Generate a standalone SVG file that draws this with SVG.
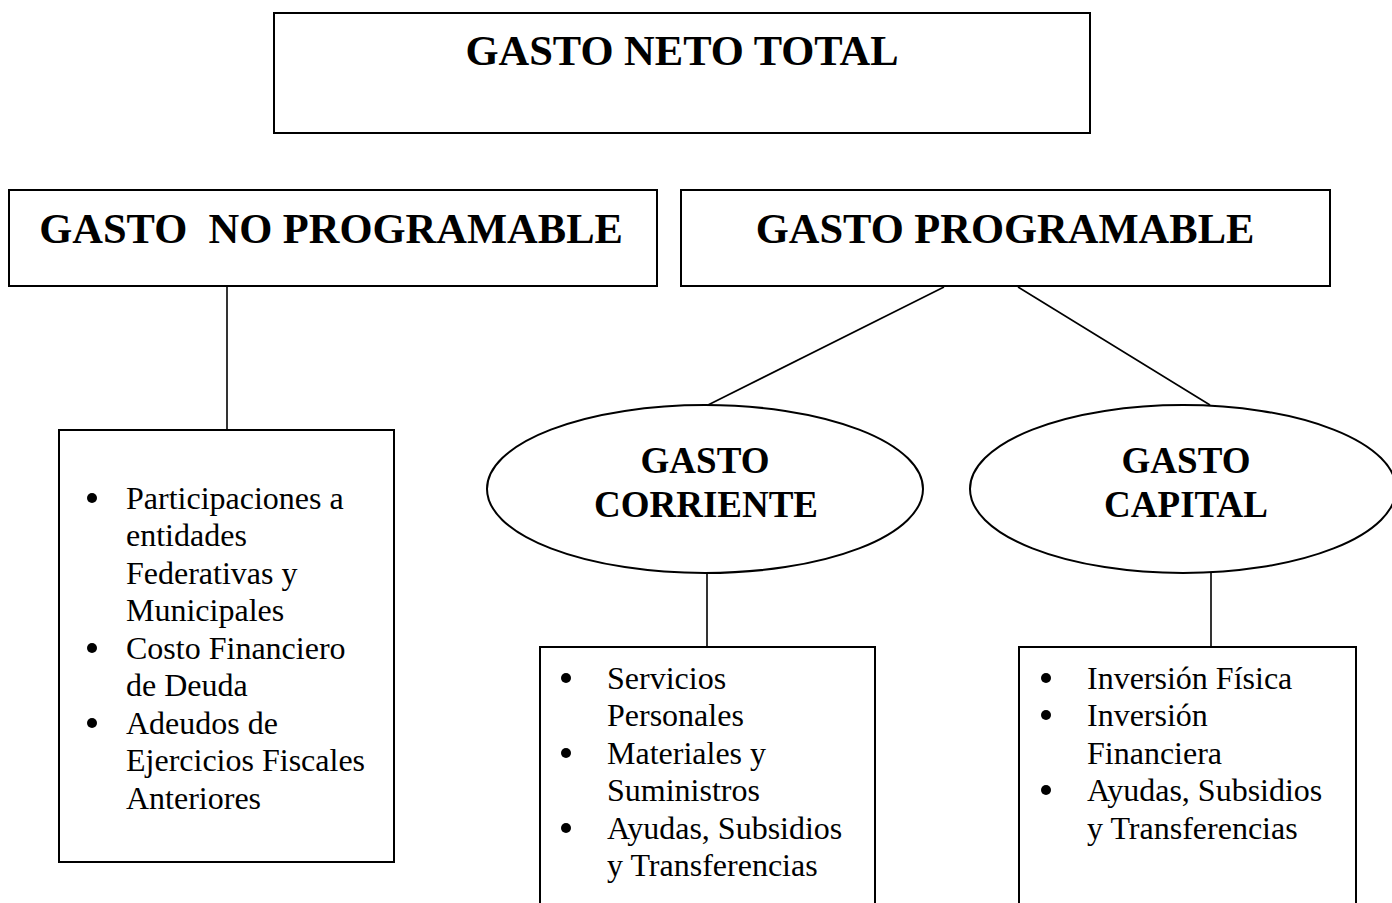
<svg xmlns="http://www.w3.org/2000/svg" width="1392" height="903" viewBox="0 0 1392 903">
<style>
.box{fill:#fff;stroke:#000;stroke-width:2}
.ell{fill:#fff;stroke:#000;stroke-width:2}
.con{stroke:#000;stroke-width:1.6;fill:none}
.h{font-family:"Liberation Serif","Times New Roman",serif;font-weight:bold;font-size:42.5px;fill:#000;text-anchor:middle}
.e{font-family:"Liberation Serif","Times New Roman",serif;font-weight:bold;font-size:37px;fill:#000;text-anchor:middle}
.t{font-family:"Liberation Serif","Times New Roman",serif;font-size:32px;fill:#000}
.b{fill:#000}
</style>
<rect width="1392" height="903" fill="#fff"/>
<g id="connectors">
<line class="con" x1="227" y1="286" x2="227" y2="430"/>
<line class="con" x1="944" y1="287" x2="708" y2="405"/>
<line class="con" x1="1018" y1="287" x2="1210" y2="405"/>
<line class="con" x1="707" y1="573" x2="707" y2="647"/>
<line class="con" x1="1211" y1="573" x2="1211" y2="647"/>
</g>
<g id="gasto-neto-total">
<rect class="box" x="274" y="13" width="816" height="120"/>
<text class="h" x="682" y="65">GASTO NETO TOTAL</text>
</g>
<g id="gasto-no-programable">
<rect class="box" x="9" y="190" width="648" height="96"/>
<text class="h" x="331" y="243" xml:space="preserve">GASTO  NO PROGRAMABLE</text>
</g>
<g id="gasto-programable">
<rect class="box" x="681" y="190" width="649" height="96"/>
<text class="h" x="1005" y="243">GASTO PROGRAMABLE</text>
</g>
<g id="no-programable-items">
<rect class="box" x="59" y="430" width="335" height="432"/>
<circle class="b" cx="92" cy="498" r="5"/>
<circle class="b" cx="92" cy="648" r="5"/>
<circle class="b" cx="92" cy="723" r="5"/>
<text class="t" x="126" y="509">Participaciones a</text>
<text class="t" x="126" y="546">entidades</text>
<text class="t" x="126" y="584">Federativas y</text>
<text class="t" x="126" y="621">Municipales</text>
<text class="t" x="126" y="659">Costo Financiero</text>
<text class="t" x="126" y="696">de Deuda</text>
<text class="t" x="126" y="734">Adeudos de</text>
<text class="t" x="126" y="771">Ejercicios Fiscales</text>
<text class="t" x="126" y="809">Anteriores</text>
</g>
<g id="gasto-corriente">
<ellipse class="ell" cx="705" cy="489" rx="218" ry="84"/>
<text class="e" x="705" y="473">GASTO</text>
<text class="e" x="706" y="517">CORRIENTE</text>
</g>
<g id="gasto-capital">
<ellipse class="ell" cx="1183" cy="489" rx="213" ry="84"/>
<text class="e" x="1186" y="473">GASTO</text>
<text class="e" x="1186" y="517">CAPITAL</text>
</g>
<g id="corriente-items">
<rect class="box" x="540" y="647" width="335" height="270"/>
<circle class="b" cx="566" cy="678" r="5"/>
<circle class="b" cx="566" cy="753" r="5"/>
<circle class="b" cx="566" cy="828" r="5"/>
<text class="t" x="607" y="689">Servicios</text>
<text class="t" x="607" y="726">Personales</text>
<text class="t" x="607" y="764">Materiales y</text>
<text class="t" x="607" y="801">Suministros</text>
<text class="t" x="607" y="839">Ayudas, Subsidios</text>
<text class="t" x="607" y="876">y Transferencias</text>
</g>
<g id="capital-items">
<rect class="box" x="1019" y="647" width="337" height="270"/>
<circle class="b" cx="1046" cy="678" r="5"/>
<circle class="b" cx="1046" cy="715" r="5"/>
<circle class="b" cx="1046" cy="790" r="5"/>
<text class="t" x="1087" y="689">Inversión Física</text>
<text class="t" x="1087" y="726">Inversión</text>
<text class="t" x="1087" y="764">Financiera</text>
<text class="t" x="1087" y="801">Ayudas, Subsidios</text>
<text class="t" x="1087" y="839">y Transferencias</text>
</g>
</svg>
